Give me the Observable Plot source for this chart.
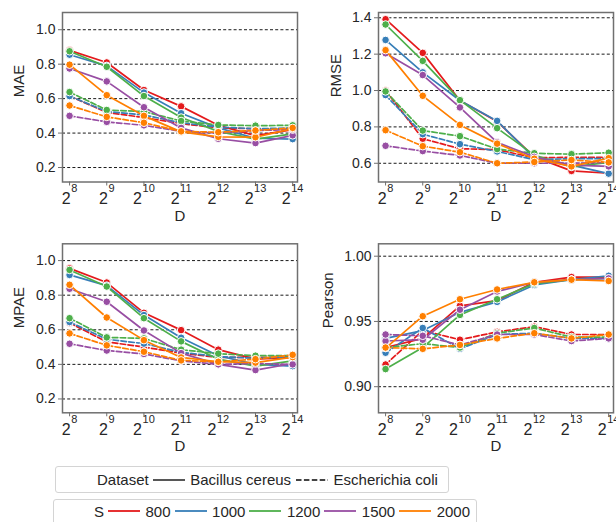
<!DOCTYPE html>
<html>
<head>
<meta charset="utf-8">
<script src="https://cdn.jsdelivr.net/npm/d3@7"></script>
<script src="https://cdn.jsdelivr.net/npm/@observablehq/plot@0.6"></script>
<style>
  html, body { margin: 0; padding: 0; background: #fff; }
  #root { position: relative; width: 616px; height: 522px; overflow: hidden; font-family: "Liberation Sans", Arial, sans-serif; color: #262626; }
  .panel { position: absolute; }
  .legend { position: absolute; box-sizing: border-box; border: 1px solid #d4d4d4; border-radius: 3px; display: flex; align-items: center; font-size: 15px; white-space: nowrap; }
  .legend svg { display: block; }
</style>
</head>
<body>
<div id="root"></div>
<script>
// ---------- data ----------
const exponents = [8, 9, 10, 11, 12, 13, 14];
const sizes = [800, 1000, 1200, 1500, 2000];
const datasets = ["Bacillus cereus", "Escherichia coli"];
const palette = ["#e41a1c", "#377eb8", "#4daf4a", "#984ea3", "#ff7f00"];

// rows follow sizes order: 800, 1000, 1200, 1500, 2000 ; columns follow exponents
const maeBacillus = [
  [0.880, 0.810, 0.650, 0.555, 0.445, 0.385, 0.420],
  [0.855, 0.790, 0.635, 0.515, 0.430, 0.370, 0.365],
  [0.875, 0.785, 0.615, 0.490, 0.410, 0.365, 0.395],
  [0.775, 0.700, 0.550, 0.430, 0.367, 0.342, 0.387],
  [0.797, 0.620, 0.500, 0.407, 0.378, 0.376, 0.426]
];
const maeEcoli = [
  [0.615, 0.520, 0.490, 0.455, 0.430, 0.425, 0.425],
  [0.615, 0.525, 0.505, 0.460, 0.435, 0.425, 0.430],
  [0.638, 0.534, 0.525, 0.470, 0.447, 0.443, 0.445],
  [0.500, 0.465, 0.445, 0.410, 0.400, 0.415, 0.420],
  [0.560, 0.494, 0.460, 0.410, 0.405, 0.415, 0.430]
];
const rmseBacillus = [
  [1.392, 1.207, 0.945, 0.830, 0.635, 0.558, 0.545],
  [1.278, 1.100, 0.945, 0.833, 0.630, 0.590, 0.543],
  [1.363, 1.163, 0.947, 0.793, 0.645, 0.580, 0.605],
  [1.205, 1.085, 0.907, 0.715, 0.635, 0.590, 0.583],
  [1.222, 0.971, 0.811, 0.708, 0.625, 0.583, 0.628]
];
const rmseEcoli = [
  [1.000, 0.735, 0.680, 0.675, 0.630, 0.633, 0.633],
  [0.975, 0.760, 0.705, 0.665, 0.620, 0.625, 0.625],
  [0.995, 0.780, 0.749, 0.678, 0.655, 0.650, 0.658],
  [0.696, 0.667, 0.643, 0.600, 0.600, 0.600, 0.605],
  [0.782, 0.694, 0.661, 0.600, 0.607, 0.618, 0.605]
];
const mpaeBacillus = [
  [0.955, 0.873, 0.698, 0.598, 0.485, 0.430, 0.440],
  [0.917, 0.855, 0.685, 0.554, 0.450, 0.400, 0.390],
  [0.946, 0.850, 0.667, 0.533, 0.430, 0.390, 0.420],
  [0.837, 0.762, 0.596, 0.465, 0.400, 0.367, 0.405],
  [0.860, 0.671, 0.540, 0.440, 0.415, 0.410, 0.442]
];
const mpaeEcoli = [
  [0.640, 0.530, 0.500, 0.465, 0.440, 0.440, 0.440],
  [0.645, 0.545, 0.520, 0.470, 0.445, 0.435, 0.445],
  [0.667, 0.556, 0.550, 0.485, 0.462, 0.450, 0.450],
  [0.519, 0.480, 0.460, 0.420, 0.400, 0.405, 0.400],
  [0.579, 0.510, 0.473, 0.423, 0.415, 0.430, 0.455]
];
const pearsonBacillus = [
  [0.930, 0.937, 0.962, 0.966, 0.980, 0.984, 0.984],
  [0.937, 0.943, 0.957, 0.965, 0.978, 0.982, 0.985],
  [0.9135, 0.930, 0.955, 0.967, 0.979, 0.982, 0.983],
  [0.935, 0.936, 0.959, 0.973, 0.980, 0.982, 0.983],
  [0.9296, 0.954, 0.967, 0.9745, 0.980, 0.982, 0.981]
];
const pearsonEcoli = [
  [0.917, 0.943, 0.936, 0.942, 0.946, 0.940, 0.940],
  [0.926, 0.945, 0.929, 0.940, 0.941, 0.937, 0.937],
  [0.930, 0.933, 0.930, 0.941, 0.945, 0.938, 0.938],
  [0.940, 0.939, 0.932, 0.940, 0.940, 0.935, 0.937],
  [0.930, 0.929, 0.932, 0.937, 0.941, 0.937, 0.940]
];

const errorTicks = [0.2, 0.4, 0.6, 0.8, 1.0];
const rmseTicks = [0.6, 0.8, 1.0, 1.2, 1.4];
const pearsonTicks = [0.90, 0.95, 1.00];
const xLabel = "D";
const legendDatasetTitle = "Dataset";
const legendSizeTitle = "S";

// ---------- helpers ----------
const FONT = '"Liberation Sans", Arial, sans-serif';
const INK = "#262626";
const SPINE = "#707070";

function toRows(bacillus, ecoli) {
  const rows = [];
  [bacillus, ecoli].forEach((series, di) =>
    series.forEach((vals, si) =>
      vals.forEach((v, i) => rows.push({dataset: datasets[di], size: sizes[si], e: exponents[i], v}))));
  return rows;
}

function makePanel(cfg) {
  const rows = toRows(cfg.bacillus, cfg.ecoli);
  const marks = [
    Plot.ruleY(cfg.ticks, {stroke: "#1a1a1a", strokeWidth: 1, strokeDasharray: "3,2.2"})
  ];
  sizes.forEach(s => datasets.forEach((ds, di) => {
    const sub = rows.filter(r => r.size === s && r.dataset === ds);
    const lineOpts = {x: "e", y: "v", stroke: "size", strokeWidth: 1.7};
    if (di === 1) lineOpts.strokeDasharray = "5.5,2.4";
    marks.push(Plot.line(sub, lineOpts));
    marks.push(Plot.dot(sub, {x: "e", y: "v", fill: "size", stroke: "white", strokeWidth: 1, r: 3.8}));
  }));
  marks.push(Plot.frame({stroke: SPINE, strokeWidth: 1.5}));
  marks.push(Plot.axisY({ticks: cfg.ticks, tickFormat: cfg.fmt, tickSize: 4, tickPadding: 3,
    stroke: SPINE, fill: INK, fontSize: 14, label: null}));
  marks.push(Plot.axisX({ticks: exponents, tickFormat: d => "2^" + d, tickSize: 4, tickPadding: 6.5,
    stroke: SPINE, fill: INK, fontSize: 16, label: null}));
  marks.push(Plot.text([cfg.label], {frameAnchor: "left", dx: cfg.labelDx, rotate: -90, fontSize: 15, fill: INK}));
  marks.push(Plot.text([xLabel], {frameAnchor: "bottom", dy: 38.5, fontSize: 15, fill: INK}));

  const svg = Plot.plot({
    width: cfg.width, height: cfg.height,
    marginLeft: cfg.ml, marginRight: cfg.mr, marginTop: cfg.mt, marginBottom: cfg.mb,
    style: {fontFamily: FONT, color: INK, background: "transparent", overflow: "visible"},
    x: {domain: [7.81, 14.13]},
    y: {domain: cfg.domain},
    color: {type: "ordinal", domain: sizes, range: palette},
    marks
  });
  // superscript powers of two for the x tick labels
  svg.querySelectorAll("text").forEach(t => {
    const m = /^2\^(\d+)$/.exec(t.textContent.trim());
    if (!m) return;
    while (t.firstChild) t.removeChild(t.firstChild);
    const ns = "http://www.w3.org/2000/svg";
    const base = document.createElementNS(ns, "tspan");
    base.textContent = "2";
    const sup = document.createElementNS(ns, "tspan");
    sup.textContent = m[1];
    sup.setAttribute("font-size", "11");
    sup.setAttribute("dy", "-11.5");
    sup.setAttribute("dx", "0.5");
    t.appendChild(base);
    t.appendChild(sup);
  });
  const wrap = document.createElement("div");
  wrap.className = "panel";
  wrap.style.left = cfg.left + "px";
  wrap.style.top = cfg.top + "px";
  wrap.appendChild(svg);
  return wrap;
}

const root = document.getElementById("root");
const f1 = d3.format(".1f"), f2 = d3.format(".2f");
root.appendChild(makePanel({bacillus: maeBacillus, ecoli: maeEcoli, label: "MAE", ticks: errorTicks, fmt: f1,
  domain: [0.116, 1.1], left: 0, top: 0, width: 308, height: 230, ml: 62, mr: 11, mt: 12, mb: 48.5, labelDx: -43}));
root.appendChild(makePanel({bacillus: rmseBacillus, ecoli: rmseEcoli, label: "RMSE", ticks: rmseTicks, fmt: f1,
  domain: [0.497, 1.429], left: 308, top: 0, width: 308, height: 230, ml: 70, mr: 3, mt: 12, mb: 48.5, labelDx: -42}));
root.appendChild(makePanel({bacillus: mpaeBacillus, ecoli: mpaeEcoli, label: "MPAE", ticks: errorTicks, fmt: f1,
  domain: [0.12, 1.097], left: 0, top: 230, width: 308, height: 230, ml: 62, mr: 11, mt: 13.3, mb: 47.7, labelDx: -43}));
root.appendChild(makePanel({bacillus: pearsonBacillus, ecoli: pearsonEcoli, label: "Pearson", ticks: pearsonTicks, fmt: f2,
  domain: [0.88, 1.0095], left: 308, top: 230, width: 308, height: 230, ml: 70, mr: 3, mt: 13.3, mb: 47.7, labelDx: -50}));

// ---------- legends ----------
function swatch(color, dashed) {
  const ns = "http://www.w3.org/2000/svg";
  const s = document.createElementNS(ns, "svg");
  s.setAttribute("width", 32); s.setAttribute("height", 6);
  const l = document.createElementNS(ns, "line");
  l.setAttribute("x1", 0); l.setAttribute("x2", 32); l.setAttribute("y1", 3); l.setAttribute("y2", 3);
  l.setAttribute("stroke", color); l.setAttribute("stroke-width", 1.8);
  if (dashed) l.setAttribute("stroke-dasharray", "5.5,2.4");
  s.appendChild(l);
  return s;
}
function span(text, ml) {
  const e = document.createElement("span");
  e.textContent = text;
  e.style.marginLeft = ml + "px";
  return e;
}
function swWrap(sv, ml) {
  const d = document.createElement("div");
  d.style.marginLeft = ml + "px";
  d.appendChild(sv);
  return d;
}

const leg1 = document.createElement("div");
leg1.className = "legend";
Object.assign(leg1.style, {left: "55px", top: "466px", width: "394px", height: "27px", paddingLeft: "41px"});
leg1.appendChild(span(legendDatasetTitle, 0));
datasets.forEach((ds, i) => {
  leg1.appendChild(swWrap(swatch("#444", i === 1), i === 0 ? 4 : 5));
  leg1.appendChild(span(ds, 5.5));
});
root.appendChild(leg1);

const leg2 = document.createElement("div");
leg2.className = "legend";
Object.assign(leg2.style, {left: "53px", top: "499px", width: "424px", height: "27px", paddingLeft: "40px", paddingBottom: "3px"});
leg2.appendChild(span(legendSizeTitle, 0));
sizes.forEach((s, i) => {
  leg2.appendChild(swWrap(swatch(palette[i], false), 4));
  leg2.appendChild(span(String(s), 5.5));
});
root.appendChild(leg2);
</script>
</body>
</html>
